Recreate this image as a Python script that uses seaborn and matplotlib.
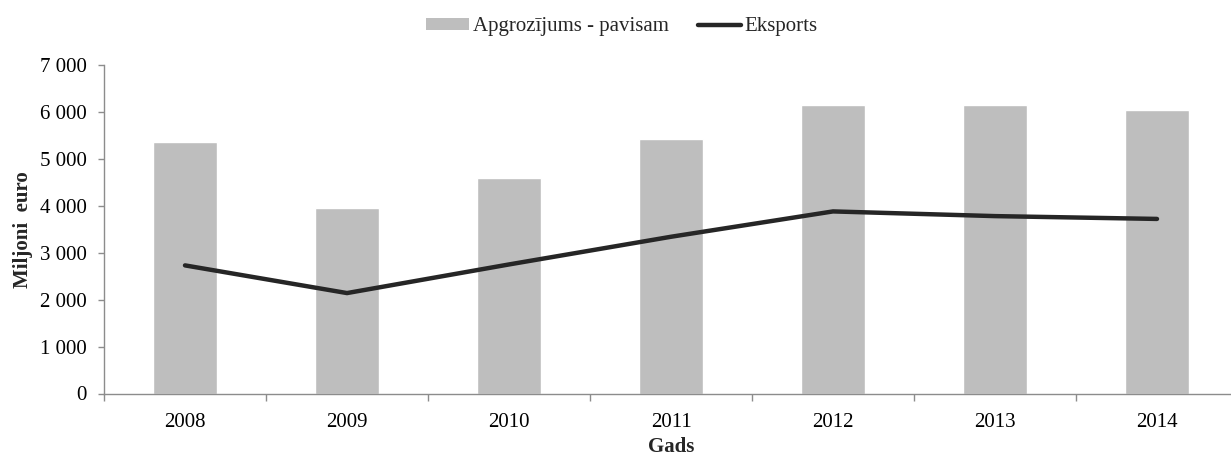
import matplotlib
matplotlib.use("Agg")
import matplotlib.pyplot as plt
import seaborn as sns
import pandas as pd
import numpy as np
from matplotlib.patches import Patch
from matplotlib.lines import Line2D
from matplotlib.ticker import FuncFormatter, FixedLocator

years = ["2008", "2009", "2010", "2011", "2012", "2013", "2014"]
turnover = [5350, 3950, 4600, 5420, 6140, 6140, 6040]
export = [2730, 2140, 2750, 3340, 3880, 3780, 3720]
y_ticks = [0, 1000, 2000, 3000, 4000, 5000, 6000, 7000]

sns.set_theme(style="white")
plt.rcParams['font.family'] = ['Liberation Serif', 'DejaVu Serif']

FS = 15
W, H = 1231, 457
fig = plt.figure(figsize=(W / 100, H / 100), dpi=100)
left, right, top, bottom = 104, 1238, 65, 393.5
ax = fig.add_axes([left / W, (H - bottom) / H, (right - left) / W, (bottom - top) / H])

df = pd.DataFrame({"Gads": years, "Apgrozijums": turnover, "Eksports": export})
sns.barplot(data=df, x="Gads", y="Apgrozijums", color="#BEBEBE", saturation=1,
            width=0.4, ax=ax, zorder=2)
sns.lineplot(data=df, x="Gads", y="Eksports", color="#262626", linewidth=3.2,
             sort=False, ax=ax, zorder=3)

ax.set_xlim(-0.5, len(years) - 0.5)
ax.set_ylim(0, 7000)
ax.yaxis.set_major_locator(FixedLocator(y_ticks))
ax.yaxis.set_major_formatter(FuncFormatter(lambda v, p: f"{int(v):,}".replace(",", " ")))

for s in ["top", "right"]:
    ax.spines[s].set_visible(False)
for s in ["left", "bottom"]:
    ax.spines[s].set_color("#8C8C8C")
    ax.spines[s].set_linewidth(1.0)

ax.tick_params(axis="y", which="major", direction="out", length=4.5, width=1,
               color="#8C8C8C", labelsize=FS, pad=8, left=True, labelcolor="black")
ax.tick_params(axis="x", which="major", length=0, labelsize=FS, pad=14, labelcolor="black")
ax.set_xticks(np.arange(-0.5, len(years), 1.0), minor=True)
ax.tick_params(axis="x", which="minor", direction="out", length=5, width=1,
               color="#8C8C8C", bottom=True)

ax.set_xlabel("Gads", fontsize=FS, fontweight="bold", labelpad=4)
ax.set_ylabel("Miljoni  euro", fontsize=FS, fontweight="bold", labelpad=5)
ax.grid(False)

handles = [Patch(facecolor="#BEBEBE", edgecolor="none"),
           Line2D([0], [0], color="#262626", linewidth=3.2)]
fig.legend(handles, ["Apgrozījums - pavisam", "Eksports"], loc="center",
           bbox_to_anchor=(622 / W, 1 - 27 / H), ncol=2, frameon=False,
           fontsize=FS, handlelength=2.05, handleheight=0.55, handletextpad=0.2,
           columnspacing=1.4, borderpad=0)

fig.savefig("out.png", dpi=100)
